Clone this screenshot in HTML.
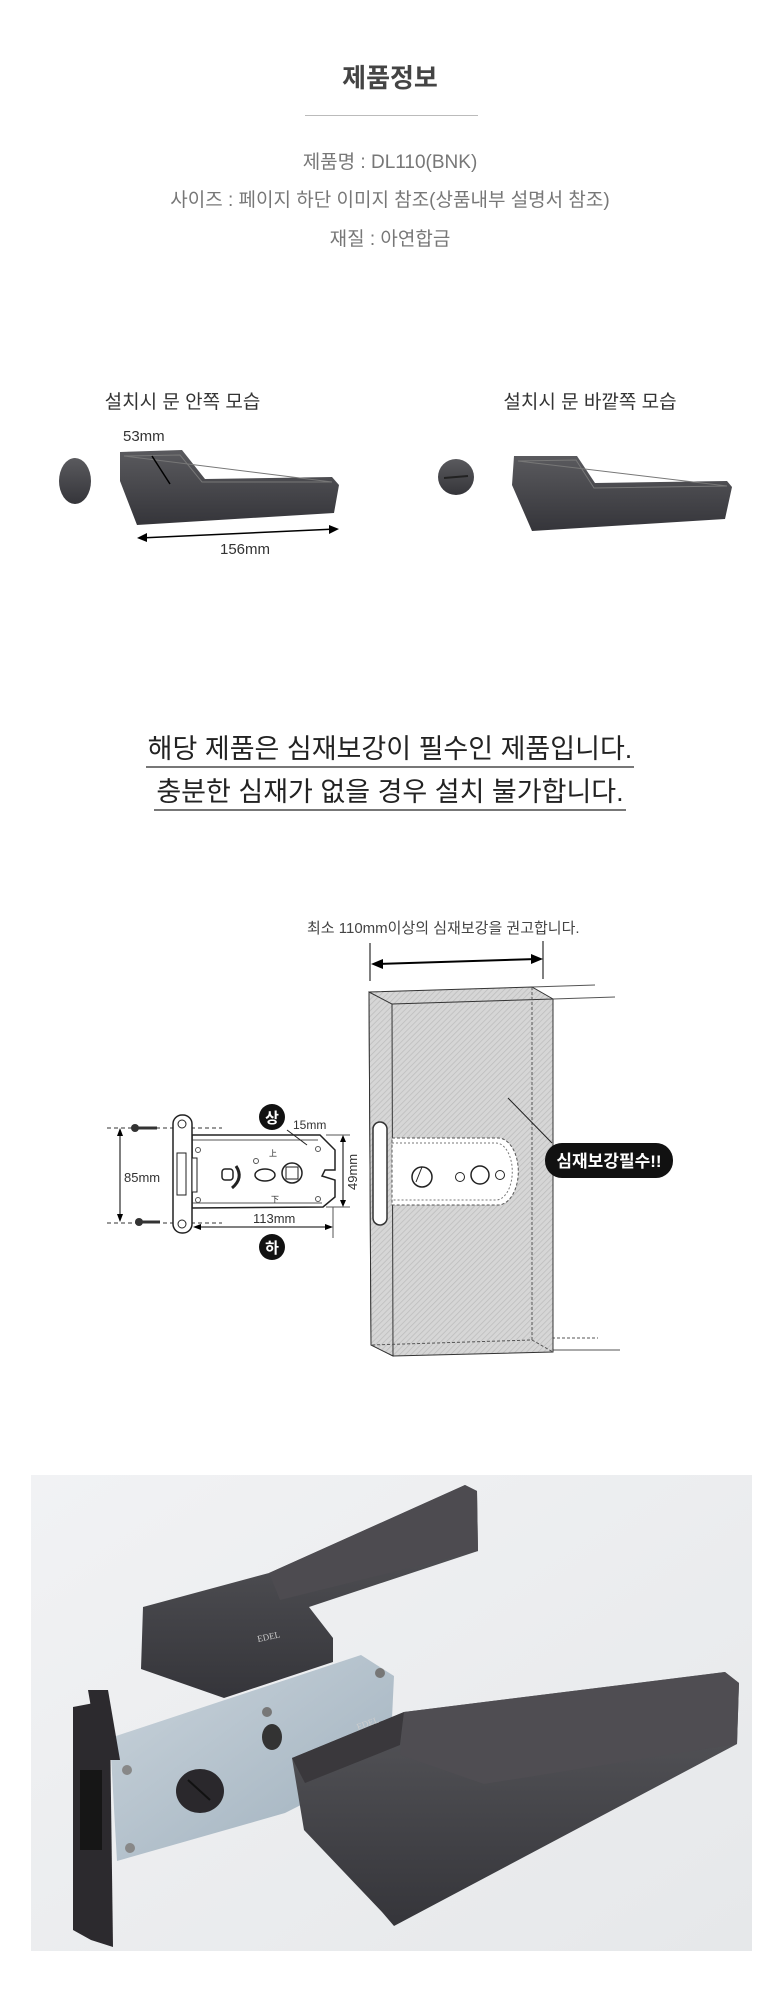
<!DOCTYPE html>
<html><head><meta charset="utf-8"><style>
html,body{margin:0;padding:0;background:#fff}
body{width:780px;height:2000px;position:relative;overflow:hidden;font-family:"Liberation Sans","Noto Sans CJK KR",sans-serif}
.t{position:absolute;left:0;width:780px;text-align:center;white-space:nowrap}
</style></head><body>
<div class="t" style="top:58px;font-size:26px;font-weight:bold;color:#444">제품정보</div>
<div style="position:absolute;left:305px;top:115px;width:173px;height:1px;background:#bbb"></div>
<div class="t" style="top:147px;font-size:19px;color:#777">제품명 : DL110(BNK)</div>
<div class="t" style="top:185px;font-size:19px;color:#777">사이즈 : 페이지 하단 이미지 참조(상품내부 설명서 참조)</div>
<div class="t" style="top:224px;font-size:19px;color:#777">재질 : 아연합금</div>
<div style="position:absolute;left:80px;top:387px;width:205px;text-align:center;font-size:19px;color:#333;white-space:nowrap">설치시 문 안쪽 모습</div>
<div style="position:absolute;left:480px;top:387px;width:220px;text-align:center;font-size:19px;color:#333;white-space:nowrap">설치시 문 바깥쪽 모습</div>

<div class="t" style="top:727px;font-size:27px;color:#222"><span style="border-bottom:2px solid #777;padding:0 2px 2px">해당 제품은 심재보강이 필수인 제품입니다.</span></div>
<div class="t" style="top:770px;font-size:27px;color:#222"><span style="border-bottom:2px solid #777;padding:0 2px 2px">충분한 심재가 없을 경우 설치 불가합니다.</span></div>

<svg width="780" height="2000" style="position:absolute;left:0;top:0" xmlns="http://www.w3.org/2000/svg">
<defs>
<linearGradient id="hg" x1="0" y1="0" x2="0" y2="1"><stop offset="0" stop-color="#5a5a5e"/><stop offset="1" stop-color="#35353a"/></linearGradient>
<pattern id="hatch" width="4" height="4" patternUnits="userSpaceOnUse" patternTransform="rotate(45)"><rect width="4" height="4" fill="#d6d6d6"/><line x1="0" y1="0" x2="0" y2="4" stroke="#bcbcbc" stroke-width="1.5"/></pattern>
<linearGradient id="pbg" x1="0" y1="0" x2="1" y2="1"><stop offset="0" stop-color="#f1f2f4"/><stop offset="1" stop-color="#e6e8ea"/></linearGradient>
<linearGradient id="plate" x1="0" y1="0" x2="1" y2="1"><stop offset="0" stop-color="#c9d3db"/><stop offset="1" stop-color="#9fb0bd"/></linearGradient>
</defs>
<!-- top handles -->
<ellipse cx="75" cy="481" rx="16" ry="23" fill="url(#hg)"/>
<polygon points="120,452 182,450 205,479 332,477 339,485 334,513 137,525 120,481" fill="url(#hg)"/>
<polygon points="124,456 180,455 202,482 332,482" fill="none" stroke="#777" stroke-width="1"/>
<line x1="152" y1="456" x2="170" y2="484" stroke="#000" stroke-width="1.5"/>
<text x="123" y="441" font-size="15" fill="#333" font-family="Liberation Sans">53mm</text>
<line x1="140" y1="538" x2="336" y2="529" stroke="#000" stroke-width="1.5"/>
<polygon points="137,538 147,533 147,542" fill="#000"/><polygon points="339,529 329,525 329,534" fill="#000"/>
<text x="245" y="554" font-size="15" fill="#333" text-anchor="middle" font-family="Liberation Sans">156mm</text>
<circle cx="456" cy="477" r="18" fill="url(#hg)"/><line x1="444" y1="478" x2="468" y2="476" stroke="#222" stroke-width="2"/>
<polygon points="514,456 577,456 595,483 727,481 732,487 725,519 532,531 512,485" fill="url(#hg)"/>
<polygon points="518,461 576,460 594,488 727,486" fill="none" stroke="#777" stroke-width="1"/>

<!-- diagram text -->
<text x="307" y="933" font-size="15" fill="#444" font-family="Liberation Sans, Noto Sans CJK KR">최소 110mm이상의 심재보강을 권고합니다.</text>
<line x1="370" y1="943" x2="370" y2="981" stroke="#000"/><line x1="543" y1="941" x2="543" y2="979" stroke="#000"/>
<line x1="378" y1="964" x2="537" y2="959" stroke="#000" stroke-width="2"/>
<polygon points="371,964 383,959 383,969" fill="#000"/><polygon points="543,959 531,954 531,964" fill="#000"/>
<!-- door -->
<line x1="532" y1="987" x2="595" y2="985" stroke="#555"/><line x1="553" y1="999" x2="615" y2="997" stroke="#555"/>
<line x1="553" y1="1350" x2="620" y2="1350" stroke="#555"/><line x1="532" y1="1338" x2="598" y2="1338" stroke="#555" stroke-dasharray="3,2"/>
<polygon points="369,992 532,987 553,999 553,1352 393,1356 371,1345" fill="url(#hatch)" stroke="#333"/>
<polygon points="369,992 392,1004 393,1356 371,1345" fill="url(#hatch)" stroke="#333"/>
<line x1="392" y1="1004" x2="553" y2="999" stroke="#333"/>
<polyline points="532,987 532,1340 371,1345" fill="none" stroke="#555" stroke-dasharray="3,2"/>
<line x1="532" y1="1340" x2="553" y2="1352" stroke="#555" stroke-dasharray="3,2"/>
<rect x="373" y="1122" width="14" height="103" rx="7" fill="#fff" stroke="#333" stroke-width="1.5"/>
<path d="M392,1138 H498 A20,33 0 0 1 498,1205 H392 Z" fill="#fff" stroke="#555" stroke-dasharray="3,2"/>
<path d="M392,1143 H496 A16,28 0 0 1 496,1200 H392" fill="none" stroke="#777" stroke-dasharray="2,2"/>
<circle cx="422" cy="1177" r="10" fill="#fff" stroke="#222" stroke-width="1.5"/><line x1="422" y1="1167" x2="416" y2="1182" stroke="#222"/>
<circle cx="460" cy="1177" r="4.5" fill="#fff" stroke="#222"/><circle cx="480" cy="1175" r="9" fill="#fff" stroke="#222" stroke-width="1.5"/><circle cx="500" cy="1175" r="4.5" fill="#fff" stroke="#222"/>
<line x1="508" y1="1098" x2="552" y2="1143" stroke="#222"/>
<rect x="545" y="1143" width="128" height="35" rx="17" fill="#111"/>
<text x="609" y="1167" font-size="17" font-weight="bold" fill="#fff" text-anchor="middle" font-family="Liberation Sans, Noto Sans CJK KR">심재보강필수!!</text>
<!-- lock -->
<line x1="107" y1="1128" x2="222" y2="1128" stroke="#333" stroke-dasharray="4,3"/><line x1="107" y1="1223" x2="222" y2="1223" stroke="#333" stroke-dasharray="4,3"/>
<line x1="120" y1="1130" x2="120" y2="1221" stroke="#000"/>
<polygon points="120,1128 117,1136 123,1136" fill="#000"/><polygon points="120,1222 117,1214 123,1214" fill="#000"/>
<text x="124" y="1182" font-size="13" fill="#333" font-family="Liberation Sans">85mm</text>
<ellipse cx="135" cy="1128" rx="4" ry="4" fill="#333"/><line x1="138" y1="1128" x2="157" y2="1128" stroke="#333" stroke-width="3"/>
<ellipse cx="139" cy="1222" rx="4" ry="4" fill="#333"/><line x1="142" y1="1222" x2="160" y2="1222" stroke="#333" stroke-width="3"/>
<polygon points="192,1135 320,1135 335,1150 335,1170 325,1170 322,1176 335,1180 335,1197 323,1207 192,1208" fill="#fff" stroke="#222" stroke-width="1.5"/>
<line x1="192" y1="1140" x2="318" y2="1140" stroke="#555"/><line x1="192" y1="1203" x2="322" y2="1203" stroke="#555"/>
<rect x="173" y="1115" width="19" height="118" rx="9" fill="#fff" stroke="#222" stroke-width="1.5"/>
<circle cx="182" cy="1124" r="4" fill="none" stroke="#222"/><circle cx="182" cy="1224" r="4" fill="none" stroke="#222"/>
<rect x="177" y="1153" width="9" height="42" fill="#fff" stroke="#222"/>
<rect x="192" y="1158" width="5" height="34" fill="#fff" stroke="#222"/>
<g fill="none" stroke="#555"><circle cx="198" cy="1150" r="2.5"/><circle cx="318" cy="1149" r="2.5"/><circle cx="198" cy="1200" r="2.5"/><circle cx="318" cy="1199" r="2.5"/><circle cx="256" cy="1161" r="2.5"/></g>
<text x="273" y="1156" font-size="8" text-anchor="middle" fill="#222" font-family="Noto Sans CJK SC">上</text>
<text x="275" y="1202" font-size="8" text-anchor="middle" fill="#222" font-family="Noto Sans CJK SC">下</text>
<rect x="222" y="1169" width="11" height="11" rx="3" fill="none" stroke="#222" stroke-width="1.5"/>
<path d="M236,1166 Q244,1178 232,1188" fill="none" stroke="#222" stroke-width="3"/>
<ellipse cx="265" cy="1175" rx="10" ry="6" fill="none" stroke="#222" stroke-width="1.5"/>
<circle cx="292" cy="1173" r="10" fill="none" stroke="#222" stroke-width="1.5"/><rect x="286" y="1167" width="12" height="12" fill="none" stroke="#222"/>
<line x1="343" y1="1137" x2="343" y2="1205" stroke="#000"/><line x1="326" y1="1135" x2="350" y2="1135" stroke="#555"/><line x1="326" y1="1207" x2="350" y2="1207" stroke="#555"/>
<polygon points="343,1135 340,1142 346,1142" fill="#000"/><polygon points="343,1207 340,1200 346,1200" fill="#000"/>
<text x="0" y="0" font-size="13" fill="#333" transform="translate(357,1190) rotate(-90)" font-family="Liberation Sans">49mm</text>
<text x="293" y="1129" font-size="12" fill="#333" font-family="Liberation Sans">15mm</text>
<line x1="287" y1="1130" x2="307" y2="1145" stroke="#222"/>
<line x1="195" y1="1227" x2="331" y2="1227" stroke="#000"/><polygon points="193,1227 201,1224 201,1230" fill="#000"/><polygon points="333,1227 325,1224 325,1230" fill="#000"/>
<line x1="333" y1="1207" x2="333" y2="1238" stroke="#555"/>
<text x="253" y="1223" font-size="13" fill="#333" font-family="Liberation Sans">113mm</text>
<circle cx="272" cy="1117" r="13" fill="#111"/><text x="272" y="1123" font-size="15" font-weight="bold" fill="#fff" text-anchor="middle" font-family="Noto Sans CJK KR">상</text>
<circle cx="272" cy="1247" r="13" fill="#111"/><text x="272" y="1253" font-size="15" font-weight="bold" fill="#fff" text-anchor="middle" font-family="Noto Sans CJK KR">하</text>

<!-- photo -->
<rect x="31" y="1475" width="721" height="476" fill="url(#pbg)"/>
<polygon points="143,1607 269,1573 465,1485 477,1491 478,1551 309,1607 333,1638 333,1662 224,1698 141,1669" fill="url(#hg)"/>
<polygon points="269,1573 465,1485 477,1491 478,1551 280,1600" fill="#4d4b50"/>
<polygon points="73,1707 94,1703 110,1724 113,1947 91,1940 73,1930" fill="#2c2a2e"/>
<rect x="80" y="1770" width="22" height="80" fill="#161616"/>
<polygon points="110,1738 361,1655 394,1676 390,1760 285,1813 117,1861" fill="url(#plate)"/>
<circle cx="127" cy="1770" r="5" fill="#888"/><circle cx="130" cy="1848" r="5" fill="#888"/><circle cx="267" cy="1712" r="5" fill="#777"/><circle cx="380" cy="1673" r="5" fill="#777"/>
<ellipse cx="272" cy="1737" rx="10" ry="13" fill="#333"/>
<polygon points="88,1690 108,1690 120,1760 100,1760" fill="#2c2a2e"/>
<ellipse cx="200" cy="1791" rx="24" ry="22" fill="#2a282c"/><line x1="188" y1="1780" x2="210" y2="1800" stroke="#111" stroke-width="2"/>
<polygon points="292,1758 404,1712 725,1672 739,1683 737,1744 394,1926 382,1912 304,1830" fill="url(#hg)"/>
<polygon points="404,1712 725,1672 739,1683 737,1744 484,1784 400,1755" fill="#4f4d52"/>
<polygon points="292,1758 404,1712 400,1745 305,1783" fill="#3a383c"/>
<text x="358" y="1730" font-size="9" fill="#ccc" font-family="Liberation Serif" transform="rotate(-20 358 1730)">EDEL</text>
<text x="258" y="1642" font-size="9" fill="#ccc" font-family="Liberation Serif" transform="rotate(-12 258 1642)">EDEL</text>
</svg>
</body></html>
